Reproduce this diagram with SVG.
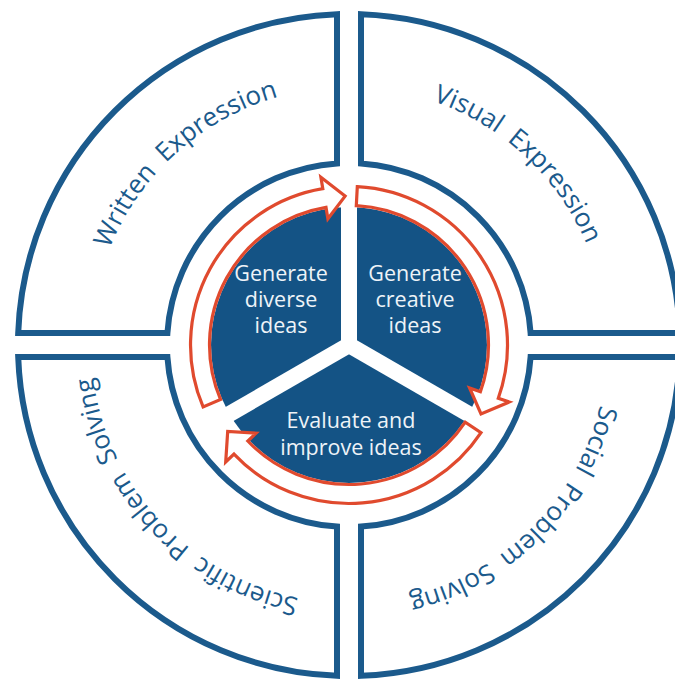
<svg xmlns="http://www.w3.org/2000/svg" xmlns:xlink="http://www.w3.org/1999/xlink" width="675" height="680" viewBox="0 0 675 680">
  <style>
    .quad { fill: #ffffff; stroke: #1b5a8c; stroke-width: 6; stroke-linejoin: miter; }
    .qlabel { font-family: "Open Sans", "Liberation Sans", sans-serif; font-size: 26px; fill: #1b5a8c; word-spacing: 6px; }
    .disc { fill: #145385; }
    .divider { stroke: #ffffff; stroke-width: 16; stroke-linecap: butt; }
    .cycle { fill: #ffffff; stroke: #e04a2e; stroke-width: 3.2; stroke-linejoin: miter; }
    .stage { font-family: "Open Sans", "Liberation Sans", sans-serif; font-size: 21.5px; fill: #eef3f8; text-anchor: middle; }
  </style>
  <defs>
    <!-- clockwise baseline arcs (r = 258) for the quadrant labels -->
    <path id="arcTL" d="M130.2,481.7 A258,258 0 0 1 507.9,141.7"/>
    <path id="arcTR" d="M193.7,139.0 A258,258 0 0 1 565.4,485.5"/>
    <path id="arcBR" d="M560.4,197.0 A258,258 0 0 1 201.0,556.4"/>
    <path id="arcBL" d="M489.5,561.4 A258,258 0 0 1 143.0,189.7"/>
  </defs>
  <rect width="675" height="680" fill="#ffffff"/>

  <!-- outer ring of four application areas -->
  <g id="written-expression">
    <path class="quad" d="M337,14.2 A331,331 0 0 0 18.2,333 L167.4,333 A182,182 0 0 1 337,163.4 Z"/>
    <text class="qlabel"><textPath xlink:href="#arcTL" href="#arcTL" startOffset="50%" text-anchor="middle">Written Expression</textPath></text>
  </g>
  <g id="visual-expression">
    <path class="quad" d="M361,14.2 A331,331 0 0 1 679.8,333 L530.6,333 A182,182 0 0 0 361,163.4 Z"/>
    <text class="qlabel"><textPath xlink:href="#arcTR" href="#arcTR" startOffset="50%" text-anchor="middle">Visual Expression</textPath></text>
  </g>
  <g id="social-problem-solving">
    <path class="quad" d="M679.8,357 A331,331 0 0 1 361,675.8 L361,526.6 A182,182 0 0 0 530.6,357 Z"/>
    <text class="qlabel"><textPath xlink:href="#arcBR" href="#arcBR" startOffset="50%" text-anchor="middle">Social Problem Solving</textPath></text>
  </g>
  <g id="scientific-problem-solving">
    <path class="quad" d="M337,675.8 A331,331 0 0 1 18.2,357 L167.4,357 A182,182 0 0 0 337,526.6 Z"/>
    <text class="qlabel"><textPath xlink:href="#arcBL" href="#arcBL" startOffset="50%" text-anchor="middle">Scientific Problem Solving</textPath></text>
  </g>

  <!-- central disc split into three stages -->
  <g id="core">
    <circle class="disc" cx="349" cy="345" r="138"/>
    <line class="divider" x1="349" y1="345" x2="349" y2="203"/>
    <line class="divider" x1="349" y1="345" x2="472" y2="416"/>
    <line class="divider" x1="349" y1="345" x2="226" y2="416"/>
  </g>
  <g id="generate-diverse">
    <text class="stage"><tspan x="281" y="281">Generate</tspan><tspan x="281" y="307">diverse</tspan><tspan x="281" y="333">ideas</tspan></text>
  </g>
  <g id="generate-creative">
    <text class="stage"><tspan x="415" y="281">Generate</tspan><tspan x="415" y="307">creative</tspan><tspan x="415" y="333">ideas</tspan></text>
  </g>
  <g id="evaluate-improve">
    <text class="stage"><tspan x="351" y="428">Evaluate and</tspan><tspan x="351" y="455">improve ideas</tspan></text>
  </g>

  <!-- clockwise cycle arrows -->
  <g id="connectors">
    <path class="cycle" d="M203.1,406.9 A158.5,158.5 0 0 1 322.8,188.7 L320.9,177.3 L345.1,196.1 L327.9,218.8 L326.0,207.4 A139.5,139.5 0 0 0 220.6,399.5 Z"/>
    <path class="cycle" d="M357.3,186.7 A158.5,158.5 0 0 1 498.3,398.2 L509.2,402.0 L481.0,414.0 L469.6,387.9 L480.4,391.8 A139.5,139.5 0 0 0 356.3,205.7 Z"/>
    <path class="cycle" d="M481.0,432.7 A158.5,158.5 0 0 1 234.0,454.1 L225.7,462.0 L227.7,431.5 L256.1,433.1 L247.8,441.0 A139.5,139.5 0 0 0 465.2,422.2 Z"/>
  </g>
</svg>
